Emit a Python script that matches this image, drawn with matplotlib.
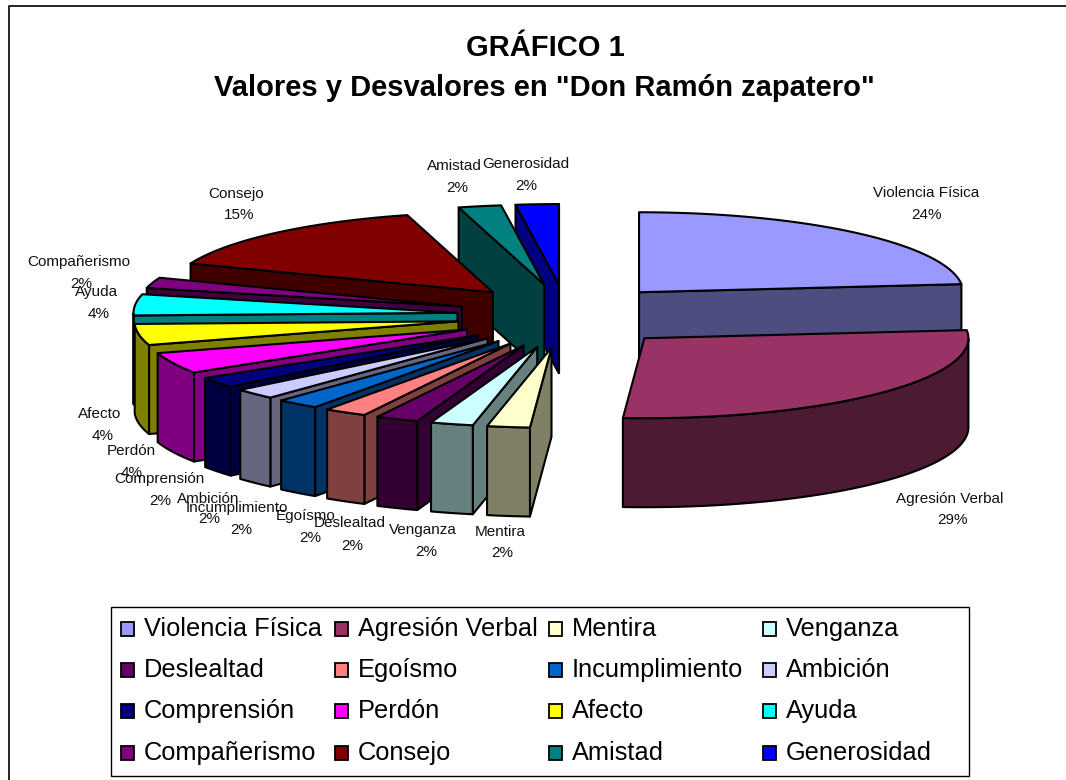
import numpy as np
import matplotlib
matplotlib.use('Agg')
import matplotlib.pyplot as plt
from matplotlib.patches import Polygon, Rectangle

plt.rcParams['font.family'] = ['Liberation Sans', 'DejaVu Sans']

categories = ['Violencia Física', 'Agresión Verbal', 'Mentira', 'Venganza',
              'Deslealtad', 'Egoísmo', 'Incumplimiento', 'Ambición',
              'Comprensión', 'Perdón', 'Afecto', 'Ayuda',
              'Compañerismo', 'Consejo', 'Amistad', 'Generosidad']
# shares as measured from the slice angles, the printed labels are rounded differently
shares = [23.4, 27.7, 2.13, 2.13, 2.13, 2.13, 2.13, 2.13,
          2.13, 4.26, 4.26, 4.26, 2.13, 14.9, 2.13, 2.13]
percent_labels = ['24%', '29%', '2%', '2%', '2%', '2%', '2%', '2%',
                  '2%', '4%', '4%', '4%', '2%', '15%', '2%', '2%']
colors = ['#9999FF', '#993366', '#FFFFCC', '#CCFFFF', '#660066', '#FF8080',
          '#0066CC', '#CCCCFF', '#000080', '#FF00FF', '#FFFF00', '#00FFFF',
          '#800080', '#800000', '#008080', '#0000FF']

# name line and percent line centres for each data label, in pixels
label_name_pos = [(926, 193), (950, 499), (500, 532), (423, 530), (350, 523), (306, 516),
                  (237, 508), (208, 499), (159, 479), (131, 451), (100, 414), (97, 292),
                  (79, 262), (236, 194), (454, 166), (526, 164)]
label_pct_pos = [(927, 215), (952, 520), (502, 553), (426, 552), (352, 546), (310, 538),
                 (241, 530), (209, 519), (160, 501), (132, 473), (103, 436), (99, 314),
                 (81, 284), (239, 215), (457, 188), (526, 186)]

legend_col_x = [121, 335, 549, 763]
legend_row_y = [629, 670, 711, 753]

W, H = 1066, 780
CX, CY = 566, 316      # pie centre
EX, EY = 109, 32       # explosion
RX, RY = 324, 80       # radii of one slice
DEPTH = 89
LW = 1.5


def darker(col):
    r, g, b = matplotlib.colors.to_rgb(col)
    return (r * 0.5, g * 0.5, b * 0.5)


def rim(ax0, ay0, a):
    return ax0 + RX * np.sin(a), ay0 - RY * np.cos(a)


def draw_slice(ax, a0, a1, col):
    mid = (a0 + a1) / 2
    ax0 = CX + EX * np.sin(mid)
    ay0 = CY - EY * np.cos(mid)
    side = darker(col)
    ts = np.linspace(a0, a1, 80)
    xs, ys = rim(ax0, ay0, ts)

    # only the radial walls that face the viewer
    walls = []
    if np.sin(a0) < 0:
        walls.append(a0)
    if np.sin(a1) > 0:
        walls.append(a1)
    for a in walls:
        x, y = rim(ax0, ay0, a)
        ax.add_patch(Polygon([(ax0, ay0), (x, y), (x, y + DEPTH), (ax0, ay0 + DEPTH)],
                             fc=side, ec='black', lw=LW, joinstyle='round'))

    front = np.cos(ts) <= 0
    if front.any():
        fx, fy = xs[front], ys[front]
        pts = list(zip(fx, fy)) + list(zip(fx[::-1], fy[::-1] + DEPTH))
        ax.add_patch(Polygon(pts, fc=side, ec='black', lw=LW, joinstyle='round'))

    ax.add_patch(Polygon([(ax0, ay0)] + list(zip(xs, ys)), fc=col, ec='black',
                         lw=LW, joinstyle='round'))


fig = plt.figure(figsize=(W / 100, H / 100), dpi=100)
ax = fig.add_axes([0, 0, 1, 1])
ax.set_xlim(0, W)
ax.set_ylim(H, 0)
ax.axis('off')

# chart frame runs off the right and bottom of the picture
ax.plot([8.5, 8.5, W + 5], [H + 5, 5.5, 5.5], color='black', lw=1.2)

ax.text(545, 48, 'GRÁFICO 1', ha='center', va='center', fontsize=21, fontweight='bold')
ax.text(544, 88, 'Valores y Desvalores en "Don Ramón zapatero"', ha='center', va='center',
        fontsize=21, fontweight='bold')

edges = np.cumsum([0] + shares) / sum(shares) * 2 * np.pi
order = sorted(range(len(shares)), key=lambda i: -np.cos((edges[i] + edges[i + 1]) / 2))
for i in order:
    draw_slice(ax, edges[i], edges[i + 1], colors[i])

for i, name in enumerate(categories):
    ax.text(*label_name_pos[i], name, ha='center', va='center', fontsize=11, color='#111111')
    ax.text(*label_pct_pos[i], percent_labels[i], ha='center', va='center', fontsize=11,
            color='#111111')

ax.add_patch(Rectangle((111, 607), 858, 169, fc='white', ec='black', lw=1))
for i, name in enumerate(categories):
    row, col = divmod(i, 4)
    x = legend_col_x[col]
    y = legend_row_y[row]
    ax.add_patch(Rectangle((x, y - 7), 13, 14, fc=colors[i], ec='black', lw=1.3))
    ax.text(x + 23, y, name, ha='left', va='center', fontsize=18.3)

fig.savefig('out.png', dpi=100)
